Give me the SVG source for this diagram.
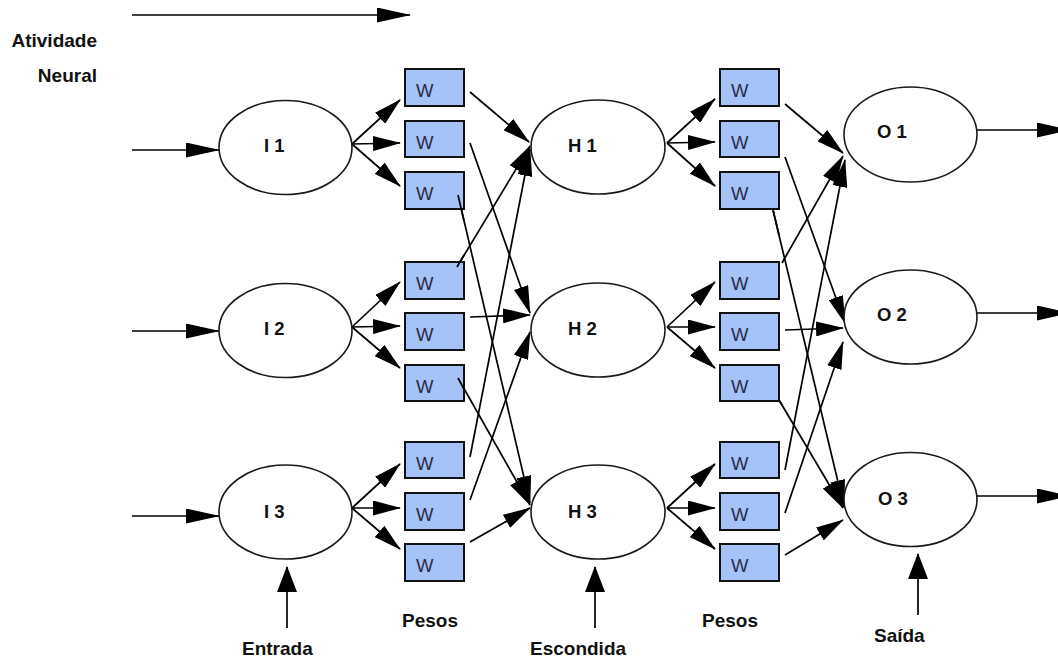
<svg xmlns="http://www.w3.org/2000/svg" width="1058" height="657" viewBox="0 0 1058 657">
  <defs>
    <marker id="head-lg" viewBox="0 0 34 15" markerWidth="34" markerHeight="15" refX="33" refY="7.5" orient="auto" markerUnits="userSpaceOnUse">
      <path d="M0,0 L34,7.5 L0,15 z" fill="#000"/>
    </marker>
    <marker id="head-md" viewBox="0 0 28 15" markerWidth="28" markerHeight="15" refX="27" refY="7.5" orient="auto" markerUnits="userSpaceOnUse">
      <path d="M0,0 L28,7.5 L0,15 z" fill="#000"/>
    </marker>
    <marker id="head-up" viewBox="0 0 26 20" markerWidth="26" markerHeight="20" refX="25" refY="10" orient="auto" markerUnits="userSpaceOnUse">
      <path d="M0,0 L26,10 L0,20 z" fill="#000"/>
    </marker>
  </defs>
  <style>
    .neuron ellipse { fill: #fff; stroke: #1a1a1a; stroke-width: 1.6; }
    .neuron text { font-family: "Liberation Sans", Arial, sans-serif; font-weight: bold; font-size: 18.5px; fill: #111; }
    .weight rect { fill: #a6c3f8; stroke: #111; stroke-width: 2; }
    .weight text { font-family: "Liberation Sans", Arial, sans-serif; font-size: 18.5px; fill: #2a2a48; }
    .label { font-family: "Liberation Sans", Arial, sans-serif; font-weight: bold; font-size: 19px; fill: #111; }
    .conn line { stroke: #000; stroke-width: 1.7; fill: none; }
    .lg { marker-end: url(#head-lg); }
    .md { marker-end: url(#head-md); }
    .up { marker-end: url(#head-up); }
  </style>

  <rect width="1058" height="657" fill="#fff"/>

  <!-- captions -->
  <g id="captions">
    <text class="label" x="97" y="47" text-anchor="end">Atividade</text>
    <text class="label" x="97" y="82" text-anchor="end">Neural</text>
    <text class="label" x="242" y="655">Entrada</text>
    <text class="label" x="402" y="627">Pesos</text>
    <text class="label" x="530" y="655">Escondida</text>
    <text class="label" x="702" y="627">Pesos</text>
    <text class="label" x="874" y="642">Saída</text>
  </g>

  <!-- connectors -->
  <g id="connectors" class="conn">
    <!-- direction of activity -->
    <line class="lg" x1="132" y1="15" x2="410" y2="15"/>
    <!-- inputs -->
    <line class="lg" x1="132" y1="150" x2="219" y2="150"/>
    <line class="lg" x1="132" y1="331" x2="219" y2="331"/>
    <line class="lg" x1="132" y1="516" x2="219" y2="516"/>
    <!-- outputs -->
    <line class="lg" x1="977" y1="130" x2="1070" y2="130"/>
    <line class="lg" x1="977" y1="313" x2="1070" y2="313"/>
    <line class="lg" x1="977" y1="496" x2="1070" y2="496"/>
    <!-- layer pointers -->
    <line class="up" x1="287" y1="628" x2="287" y2="567"/>
    <line class="up" x1="595" y1="628" x2="595" y2="567"/>
    <line class="up" x1="918" y1="615" x2="918" y2="554"/>
    <!-- input fan-out -->
    <line class="md" x1="352" y1="144" x2="400" y2="100"/>
    <line class="md" x1="352" y1="144" x2="400" y2="143"/>
    <line class="md" x1="352" y1="144" x2="400" y2="186"/>
    <line class="md" x1="352" y1="327" x2="400" y2="282"/>
    <line class="md" x1="352" y1="327" x2="400" y2="326"/>
    <line class="md" x1="352" y1="327" x2="400" y2="368"/>
    <line class="md" x1="352" y1="508" x2="400" y2="464"/>
    <line class="md" x1="352" y1="508" x2="400" y2="508"/>
    <line class="md" x1="352" y1="508" x2="400" y2="549"/>
    <!-- hidden fan-out -->
    <line class="md" x1="667" y1="143" x2="715" y2="99"/>
    <line class="md" x1="667" y1="143" x2="715" y2="142"/>
    <line class="md" x1="667" y1="143" x2="715" y2="186"/>
    <line class="md" x1="667" y1="327" x2="715" y2="282"/>
    <line class="md" x1="667" y1="327" x2="715" y2="327"/>
    <line class="md" x1="667" y1="327" x2="715" y2="368"/>
    <line class="md" x1="667" y1="508" x2="715" y2="464"/>
    <line class="md" x1="667" y1="508" x2="715" y2="508"/>
    <line class="md" x1="667" y1="508" x2="715" y2="549"/>
    <!-- weights into hidden layer -->
    <line class="md" x1="470" y1="92" x2="529" y2="142"/>
    <line class="md" x1="470" y1="143" x2="530" y2="313"/>
    <line class="md" x1="458" y1="195" x2="530" y2="503"/>
    <line class="md" x1="457" y1="267" x2="530" y2="146"/>
    <line class="md" x1="470" y1="317" x2="530" y2="315"/>
    <line class="md" x1="458" y1="378" x2="530" y2="505"/>
    <line class="md" x1="470" y1="457" x2="530" y2="149"/>
    <line class="md" x1="470" y1="500" x2="530" y2="332"/>
    <line class="md" x1="470" y1="542" x2="530" y2="508"/>
    <!-- weights into output layer -->
    <line class="md" x1="785" y1="104" x2="843" y2="153"/>
    <line class="md" x1="785" y1="157" x2="845" y2="323"/>
    <line class="md" x1="773" y1="210" x2="844" y2="507"/>
    <line class="md" x1="782" y1="263" x2="843" y2="156"/>
    <line class="md" x1="785" y1="330" x2="843" y2="328"/>
    <line class="md" x1="779" y1="400" x2="843" y2="508"/>
    <line class="md" x1="785" y1="470" x2="845" y2="160"/>
    <line class="md" x1="785" y1="513" x2="843" y2="342"/>
    <line class="md" x1="785" y1="555" x2="843" y2="520"/>
  </g>

  <!-- neurons -->
  <g id="I1" class="neuron"><ellipse cx="285.5" cy="147.5" rx="66.5" ry="47"/><text x="264" y="152">I 1</text></g>
  <g id="I2" class="neuron"><ellipse cx="285.5" cy="330.5" rx="66.5" ry="47"/><text x="264" y="335">I 2</text></g>
  <g id="I3" class="neuron"><ellipse cx="285.5" cy="512" rx="66.5" ry="47"/><text x="264" y="518">I 3</text></g>
  <g id="H1" class="neuron"><ellipse cx="598" cy="147" rx="67" ry="47"/><text x="568" y="152">H 1</text></g>
  <g id="H2" class="neuron"><ellipse cx="598" cy="330" rx="67" ry="47"/><text x="568" y="335">H 2</text></g>
  <g id="H3" class="neuron"><ellipse cx="598" cy="512" rx="67" ry="47"/><text x="568" y="518">H 3</text></g>
  <g id="O1" class="neuron"><ellipse cx="910.5" cy="134.5" rx="66.5" ry="47.5"/><text x="877" y="138">O 1</text></g>
  <g id="O2" class="neuron"><ellipse cx="910.5" cy="317" rx="66.5" ry="47"/><text x="877" y="321">O 2</text></g>
  <g id="O3" class="neuron"><ellipse cx="910.5" cy="499.5" rx="66.5" ry="47"/><text x="878" y="505">O 3</text></g>

  <!-- weights between input and hidden -->
  <g id="W-I1-H1" class="weight"><rect x="405" y="69" width="59" height="37"/><text x="416" y="97">W</text></g>
  <g id="W-I1-H2" class="weight"><rect x="405" y="121" width="59" height="36"/><text x="416" y="149">W</text></g>
  <g id="W-I1-H3" class="weight"><rect x="405" y="172" width="59" height="37"/><text x="416" y="200">W</text></g>
  <g id="W-I2-H1" class="weight"><rect x="405" y="262" width="59" height="37"/><text x="416" y="290">W</text></g>
  <g id="W-I2-H2" class="weight"><rect x="405" y="313" width="59" height="37"/><text x="416" y="341">W</text></g>
  <g id="W-I2-H3" class="weight"><rect x="405" y="365" width="59" height="36"/><text x="416" y="393">W</text></g>
  <g id="W-I3-H1" class="weight"><rect x="405" y="442" width="59" height="36"/><text x="416" y="470">W</text></g>
  <g id="W-I3-H2" class="weight"><rect x="405" y="493" width="59" height="37"/><text x="416" y="521">W</text></g>
  <g id="W-I3-H3" class="weight"><rect x="405" y="544" width="59" height="37"/><text x="416" y="572">W</text></g>

  <!-- weights between hidden and output -->
  <g id="W-H1-O1" class="weight"><rect x="720" y="69" width="59" height="37"/><text x="731" y="97">W</text></g>
  <g id="W-H1-O2" class="weight"><rect x="720" y="121" width="59" height="36"/><text x="731" y="149">W</text></g>
  <g id="W-H1-O3" class="weight"><rect x="720" y="172" width="59" height="37"/><text x="731" y="200">W</text></g>
  <g id="W-H2-O1" class="weight"><rect x="720" y="262" width="59" height="37"/><text x="731" y="290">W</text></g>
  <g id="W-H2-O2" class="weight"><rect x="720" y="313" width="59" height="37"/><text x="731" y="341">W</text></g>
  <g id="W-H2-O3" class="weight"><rect x="720" y="365" width="59" height="36"/><text x="731" y="393">W</text></g>
  <g id="W-H3-O1" class="weight"><rect x="720" y="442" width="59" height="36"/><text x="731" y="470">W</text></g>
  <g id="W-H3-O2" class="weight"><rect x="720" y="493" width="59" height="37"/><text x="731" y="521">W</text></g>
  <g id="W-H3-O3" class="weight"><rect x="720" y="544" width="59" height="37"/><text x="731" y="572">W</text></g>

  <!-- strokes that start inside weight boxes are drawn over them -->
  <g id="connectors-over" class="conn">
    <line x1="458" y1="195" x2="464" y2="221"/>
    <line x1="457" y1="267" x2="464" y2="255"/>
    <line x1="458" y1="378" x2="464" y2="389"/>
    <line x1="773" y1="210" x2="779" y2="235"/>
    <line x1="779" y1="400" x2="782" y2="405"/>
  </g>
</svg>
